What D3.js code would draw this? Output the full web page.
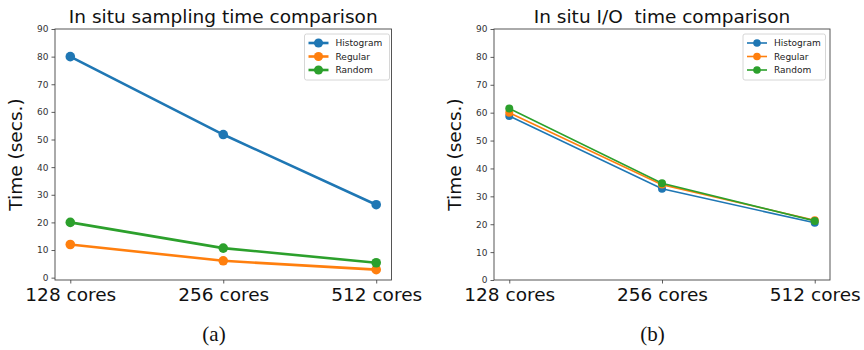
<!DOCTYPE html>
<html>
<head>
<meta charset="utf-8">
<script src="https://cdn.jsdelivr.net/npm/d3@7"></script>
<style>
  body { margin: 0; background: #fff; }
</style>
</head>
<body>
<div id="chart"></div>
<script>
const categories = ["128 cores", "256 cores", "512 cores"];
const seriesNames = ["Histogram", "Regular", "Random"];
const seriesColors = ["#1f77b4", "#ff7f0e", "#2ca02c"];
const yTicks = [0, 10, 20, 30, 40, 50, 60, 70, 80, 90];

// panel (a): sampling time
const samplingHistogram = [80, 51.8, 26.4];
const samplingRegular = [12, 6.1, 2.9];
const samplingRandom = [20, 10.7, 5.4];

// panel (b): I/O time
const ioHistogram = [58.8, 32.7, 20.5];
const ioRegular = [60, 34.2, 21.4];
const ioRandom = [61.5, 34.7, 21.2];

const width = 864, height = 350;
const svg = d3.select("#chart").append("svg")
  .attr("width", width)
  .attr("height", height)
  .style("font-family", "'DejaVu Sans', sans-serif");

function drawPanel(opts) {
  // matplotlib-like 0.1 margin on each side of the 3 categories
  const step = (opts.right - opts.left) / 2.2;
  const x = d3.scalePoint().domain(categories)
    .range([opts.left + step * 0.1, opts.right - step * 0.1]).padding(0);

  const y = d3.scaleLinear().domain(opts.yDomain).range([opts.bottom, opts.top]);

  const g = svg.append("g");

  // x axis
  const xAxis = g.append("g")
    .attr("transform", `translate(0, ${opts.bottom})`)
    .call(d3.axisBottom(x).tickSize(3.5).tickPadding(4.5));
  xAxis.select(".domain").remove();
  xAxis.selectAll("line").attr("stroke", "#333").attr("stroke-width", 0.8);
  xAxis.selectAll("text").style("font-size", "18.5px").attr("fill", "#111")
    .style("font-family", "'DejaVu Sans', sans-serif");

  // y axis
  const yAxis = g.append("g")
    .attr("transform", `translate(${opts.left}, 0)`)
    .call(d3.axisLeft(y).tickValues(yTicks).tickSize(3.5).tickPadding(3));
  yAxis.select(".domain").remove();
  yAxis.selectAll("line").attr("stroke", "#333").attr("stroke-width", 0.8);
  yAxis.selectAll("text").style("font-size", "9px").attr("fill", "#333")
    .style("font-family", "'DejaVu Sans', sans-serif");

  // frame
  g.append("rect")
    .attr("x", opts.left).attr("y", opts.top)
    .attr("width", opts.right - opts.left).attr("height", opts.bottom - opts.top)
    .attr("fill", "none").attr("stroke", "#444").attr("stroke-width", 0.9);

  // lines
  const line = d3.line()
    .x((d, i) => x(categories[i]))
    .y(d => y(d));

  opts.series.forEach((vals, k) => {
    g.append("path")
      .attr("d", line(vals))
      .attr("fill", "none")
      .attr("stroke", seriesColors[k])
      .attr("stroke-width", opts.lw);
    g.selectAll(null)
      .data(vals)
      .join("circle")
        .attr("cx", (d, i) => x(categories[i]))
        .attr("cy", d => y(d))
        .attr("r", opts.r)
        .attr("fill", seriesColors[k]);
  });

  // title
  g.append("text")
    .attr("x", (opts.left + opts.right) / 2)
    .attr("y", 23)
    .attr("text-anchor", "middle")
    .style("font-size", "18.5px")
    .style("white-space", "pre")
    .attr("fill", "#111")
    .text(opts.title);

  // y label
  g.append("text")
    .attr("transform", `translate(${opts.left - 33}, ${(opts.top + opts.bottom) / 2}) rotate(-90)`)
    .attr("text-anchor", "middle")
    .style("font-size", "18.5px")
    .attr("fill", "#111")
    .text("Time (secs.)");

  // legend
  const lg = g.append("g").attr("transform", `translate(${opts.legendX}, 34)`);
  lg.append("rect")
    .attr("x", 0).attr("y", 0)
    .attr("width", opts.legendW).attr("height", 46)
    .attr("rx", 2)
    .attr("fill", "#fff").attr("fill-opacity", 0.8)
    .attr("stroke", "#ccc").attr("stroke-width", 0.8);
  seriesNames.forEach((name, k) => {
    const cy = 9 + k * 13.5;
    lg.append("line")
      .attr("x1", 4).attr("x2", 24)
      .attr("y1", cy).attr("y2", cy)
      .attr("stroke", seriesColors[k]).attr("stroke-width", opts.lw);
    lg.append("circle")
      .attr("cx", 14).attr("cy", cy).attr("r", opts.r * 0.95)
      .attr("fill", seriesColors[k]);
    lg.append("text")
      .attr("x", 31).attr("y", cy + 3.2)
      .style("font-size", "9px")
      .attr("fill", "#222")
      .text(name);
  });

  // caption
  svg.append("text")
    .attr("x", opts.captionX)
    .attr("y", 341)
    .attr("text-anchor", "middle")
    .style("font-family", "'Liberation Serif', serif")
    .style("font-size", "21px")
    .attr("fill", "#111")
    .text(opts.caption);
}

drawPanel({
  left: 55, right: 391.5, top: 29, bottom: 280,
  yDomain: [-0.85, 90],
  series: [samplingHistogram, samplingRegular, samplingRandom],
  lw: 2.6, r: 4.8,
  title: "In situ sampling time comparison",
  legendX: 304.5, legendW: 85,
  caption: "(a)", captionX: 214
});

drawPanel({
  left: 494, right: 830, top: 29, bottom: 280,
  yDomain: [0, 90],
  series: [ioHistogram, ioRegular, ioRandom],
  lw: 1.6, r: 4,
  title: "In situ I/O  time comparison",
  legendX: 743, legendW: 82.5,
  caption: "(b)", captionX: 652.5
});
</script>
</body>
</html>
